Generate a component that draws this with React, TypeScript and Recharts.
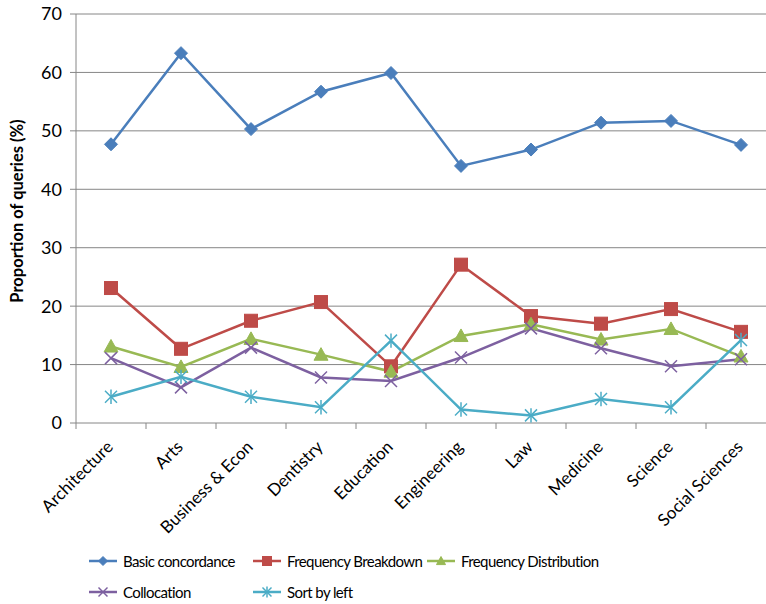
import React from 'react';
import { LineChart, Line, XAxis, YAxis, CartesianGrid } from 'recharts';

const categories = ['Architecture', 'Arts', 'Business & Econ', 'Dentistry', 'Education', 'Engineering', 'Law', 'Medicine', 'Science', 'Social Sciences'];
const basicConcordance = [47.7, 63.3, 50.3, 56.7, 59.9, 44.0, 46.8, 51.4, 51.7, 47.6];
const frequencyBreakdown = [23.1, 12.7, 17.5, 20.7, 9.7, 27.1, 18.3, 17.0, 19.5, 15.6];
const frequencyDistribution = [13.1, 9.6, 14.4, 11.7, 8.8, 14.9, 16.9, 14.3, 16.1, 11.4];
const collocation = [11.1, 6.1, 12.9, 7.8, 7.2, 11.2, 16.2, 12.8, 9.7, 10.9];
const sortByLeft = [4.5, 7.9, 4.5, 2.7, 14.1, 2.3, 1.3, 4.1, 2.7, 14.2];
const yTicks = [0, 10, 20, 30, 40, 50, 60, 70];

const FONT = 'Lato, "Liberation Sans", sans-serif';
const GRID = '#868686';

const data = categories.map((c, i) => ({
  cat: c,
  basic: basicConcordance[i],
  breakdown: frequencyBreakdown[i],
  distribution: frequencyDistribution[i],
  colloc: collocation[i],
  sortLeft: sortByLeft[i],
}));

type Shape = 'diamond' | 'square' | 'triangle' | 'x' | 'star';

function marker(shape: Shape, cx: number, cy: number, color: string, s: number) {
  switch (shape) {
    case 'diamond':
      return <polygon points={`${cx},${cy - s} ${cx + s},${cy} ${cx},${cy + s} ${cx - s},${cy}`} fill={color} stroke={color} strokeWidth={1} />;
    case 'square':
      return <rect x={cx - s} y={cy - s} width={2 * s} height={2 * s} fill={color} stroke={color} strokeWidth={1} />;
    case 'triangle':
      return <polygon points={`${cx},${cy - s} ${cx + s},${cy + s * 0.8} ${cx - s},${cy + s * 0.8}`} fill={color} stroke={color} strokeWidth={1} />;
    case 'x':
      return (
        <g stroke={color} strokeWidth={1.5}>
          <line x1={cx - s} y1={cy - s} x2={cx + s} y2={cy + s} />
          <line x1={cx - s} y1={cy + s} x2={cx + s} y2={cy - s} />
        </g>
      );
    case 'star':
      return (
        <g stroke={color} strokeWidth={1.5}>
          <line x1={cx - s} y1={cy - s} x2={cx + s} y2={cy + s} />
          <line x1={cx - s} y1={cy + s} x2={cx + s} y2={cy - s} />
          <line x1={cx} y1={cy - s * 1.2} x2={cx} y2={cy + s * 1.2} />
        </g>
      );
  }
}

const series: { key: string; name: string; color: string; shape: Shape; size: number }[] = [
  { key: 'basic', name: 'Basic concordance', color: '#4A7EBB', shape: 'diamond', size: 6.5 },
  { key: 'breakdown', name: 'Frequency Breakdown', color: '#BE4B48', shape: 'square', size: 6.5 },
  { key: 'distribution', name: 'Frequency Distribution', color: '#98B954', shape: 'triangle', size: 7 },
  { key: 'colloc', name: 'Collocation', color: '#7D60A0', shape: 'x', size: 6 },
  { key: 'sortLeft', name: 'Sort by left', color: '#4BACC6', shape: 'star', size: 6 },
];

const CatTick = (props: any) => {
  const { x, y, payload } = props;
  return (
    <g>
      <line x1={x - 35} y1={y} x2={x - 35} y2={y + 6} stroke={GRID} />
      <text x={x + 3} y={y + 25} transform={`rotate(-45, ${x + 3}, ${y + 25})`} textAnchor="end" fontSize={17} fontFamily={FONT} fill="#000">
        {payload.value}
      </text>
    </g>
  );
};

const YLabel = () => (
  <text x={17} y={211} transform="rotate(-90, 17, 211)" textAnchor="middle" dominantBaseline="central" fontSize={16.5} fontWeight="bold" fontFamily={FONT} fill="#000">
    Proportion of queries (%)
  </text>
);

const LegendItem = ({ s }: { s: (typeof series)[number] }) => (
  <div style={{ display: 'flex', alignItems: 'center', height: 20, whiteSpace: 'nowrap' }}>
    <svg width={28} height={16} style={{ marginRight: 6 }}>
      <line x1={0} y1={8} x2={28} y2={8} stroke={s.color} strokeWidth={2.5} />
      {marker(s.shape, 14, 8, s.color, 4.5)}
    </svg>
    <span>{s.name}</span>
  </div>
);

export default function App() {
  const legendPos = [
    { left: 89, top: 551 },
    { left: 253, top: 551 },
    { left: 427, top: 551 },
    { left: 89, top: 582 },
    { left: 253, top: 582 },
  ];
  return (
    <div style={{ position: 'fixed', left: 0, top: 0, width: 766, height: 604, overflow: 'hidden', background: '#fff' }}>
      <LineChart width={790} height={604} data={data} margin={{ top: 14, right: 14, bottom: 0, left: 0 }}>
        <CartesianGrid vertical={false} stroke={GRID} horizontalValues={yTicks.slice(1)} />
        <XAxis dataKey="cat" interval={0} height={181} stroke={GRID} tickLine={false} tickSize={0} tickMargin={0} padding={{ left: 35, right: 35 }} tick={<CatTick />} />
        <YAxis
          width={76}
          domain={[0, 70]}
          ticks={yTicks}
          stroke={GRID}
          tickSize={6}
          tickMargin={8}
          tick={{ fontSize: 18, fontFamily: FONT, fill: '#000' }}
          label={<YLabel />}
        />
        {series.map((s) => (
          <Line
            key={s.key}
            dataKey={s.key}
            name={s.name}
            stroke={s.color}
            strokeWidth={2.5}
            isAnimationActive={false}
            dot={(p: any) => <g key={`${s.key}-${p.index}`}>{marker(s.shape, p.cx, p.cy, s.color, s.size)}</g>}
            activeDot={false}
          />
        ))}
      </LineChart>
      {series.map((s, i) => (
        <div key={s.key} style={{ position: 'absolute', left: legendPos[i].left, top: legendPos[i].top, fontFamily: FONT, fontSize: 15, letterSpacing: -0.6, color: '#000' }}>
          <LegendItem s={s} />
        </div>
      ))}
    </div>
  );
}
